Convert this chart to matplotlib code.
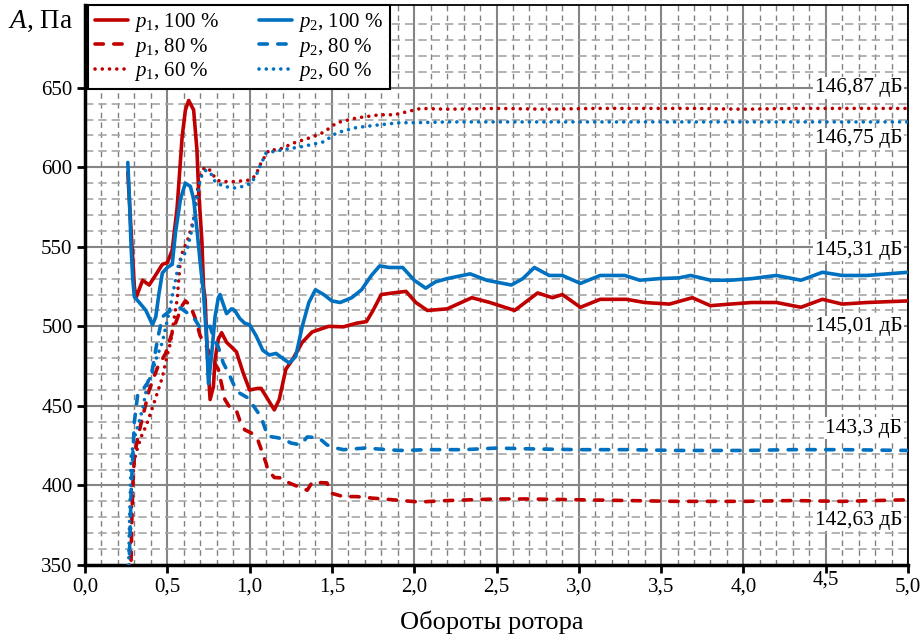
import numpy as np
import matplotlib
matplotlib.use('Agg')
import matplotlib.pyplot as plt
from matplotlib.ticker import FixedLocator

plt.rcParams['font.family'] = ['Liberation Serif', 'DejaVu Serif']
plt.rcParams['mathtext.fontset'] = 'custom'
plt.rcParams['mathtext.rm'] = 'Liberation Serif'
plt.rcParams['mathtext.it'] = 'Liberation Serif:italic'
plt.rcParams['mathtext.bf'] = 'Liberation Serif:bold'

# ---------------- data ----------------
x_p1_100 = [0.26, 0.28, 0.30, 0.31, 0.35, 0.39, 0.44, 0.47, 0.50, 0.53, 0.56, 0.59, 0.61, 0.63,
            0.66, 0.68, 0.69, 0.71, 0.72, 0.73, 0.74, 0.75, 0.76, 0.78, 0.79, 0.81, 0.83, 0.86,
            0.89, 0.92, 0.96, 1.00, 1.05, 1.07, 1.10, 1.15, 1.18, 1.22, 1.26, 1.32, 1.38, 1.48,
            1.57, 1.65, 1.71, 1.75, 1.80, 1.87, 1.95, 2.01, 2.08, 2.20, 2.35, 2.46, 2.61, 2.75,
            2.84, 2.90, 3.01, 3.13, 3.29, 3.40, 3.55, 3.69, 3.80, 3.92, 4.05, 4.20, 4.35, 4.48,
            4.60, 4.75, 5.00]
y_p1_100 = [597, 560, 525, 518, 529, 526, 534, 539, 540, 548, 575, 619, 636, 642,
            636, 611, 586, 554, 525, 517, 490, 471, 454, 462, 479, 492, 496, 490,
            487, 484, 471, 460, 461, 461, 456, 447.5, 454, 473, 479, 490, 496.5, 500,
            499.7, 502, 503, 510, 520, 521, 522, 515, 510, 511, 518, 515, 510, 521,
            518, 520, 512, 517, 517, 515, 514, 518, 513, 514, 515, 515, 512, 517,
            514, 515, 516]

x_p2_100 = [0.26, 0.27, 0.28, 0.29, 0.30, 0.33, 0.37, 0.41, 0.43, 0.45, 0.47, 0.50, 0.53, 0.55,
            0.58, 0.61, 0.64, 0.66, 0.68, 0.70, 0.72, 0.74, 0.75, 0.77, 0.79, 0.81, 0.82, 0.84,
            0.86, 0.89, 0.91, 0.94, 0.97, 1.00, 1.04, 1.08, 1.12, 1.16, 1.20, 1.24, 1.28, 1.32,
            1.36, 1.40, 1.45, 1.50, 1.55, 1.62, 1.68, 1.74, 1.79, 1.85, 1.93, 2.00, 2.07, 2.13,
            2.20, 2.34, 2.44, 2.59, 2.66, 2.73, 2.82, 2.90, 3.01, 3.13, 3.28, 3.37, 3.49, 3.61,
            3.68, 3.80, 3.92, 4.05, 4.20, 4.35, 4.48, 4.60, 4.75, 5.00]
y_p2_100 = [603, 580, 550, 530, 518.5, 515, 510, 501, 506, 521, 533.6, 537, 539, 559,
            580, 590, 588, 580, 561, 540, 521, 490, 464, 483, 506, 518, 520, 514,
            508, 511, 510, 505, 502, 501, 494, 485, 482, 483, 480, 477, 481, 500,
            515, 523, 520, 516, 515, 518, 523, 532, 538, 537, 537, 529, 524, 528,
            530, 533, 529, 526, 530, 537, 532, 532, 527, 532, 532, 529, 530, 530.5,
            532, 529, 529, 530, 532, 529, 534, 532, 532, 534]

x_p1_80 = [0.28, 0.285, 0.29, 0.30, 0.32, 0.35, 0.39, 0.44, 0.49, 0.52, 0.55, 0.59, 0.61, 0.64,
           0.67, 0.70, 0.74, 0.77, 0.81, 0.85, 0.88, 0.92, 0.94, 0.97, 1.01, 1.05, 1.08, 1.10,
           1.11, 1.15, 1.20, 1.24, 1.30, 1.35, 1.38, 1.47, 1.50, 1.57, 1.65, 1.75, 1.87, 2.03,
           2.20, 2.50, 2.70, 3.00, 3.30, 3.60, 4.00, 4.30, 4.60, 5.00]
y_p1_80 = [353, 380, 399, 418, 430, 443, 460, 474, 483, 493, 502, 513, 516, 513,
           505, 494, 487, 480, 473, 454, 449, 447, 441, 435, 433, 428.6, 420, 414,
           410, 405, 404.7, 401.6, 399, 397, 402, 401.6, 395, 393, 393, 392, 391, 389.6,
           390.5, 391.5, 391.5, 391, 390.5, 390, 390, 390.5, 390, 391]

x_p2_80 = [0.27, 0.275, 0.28, 0.29, 0.30, 0.32, 0.35, 0.38, 0.41, 0.44, 0.47, 0.52, 0.58, 0.64,
           0.67, 0.70, 0.76, 0.78, 0.81, 0.84, 0.87, 0.91, 0.94, 0.99, 1.03, 1.07, 1.09, 1.11,
           1.17, 1.21, 1.25, 1.31, 1.35, 1.42, 1.47, 1.52, 1.57, 1.70, 1.91, 2.10, 2.30, 2.50,
           2.70, 3.00, 3.30, 3.60, 4.00, 4.30, 4.60, 5.00]
y_p2_80 = [357, 375, 395, 418, 440, 457, 460, 464.5, 473, 491.5, 506, 510, 511.6, 507,
           504, 499, 500, 493, 487, 477, 471, 462, 458, 455, 449, 443, 437, 431,
           430, 429, 426.7, 425.5, 430.5, 430, 425.5, 423.6, 422.5, 423.5, 422, 422.5, 422.5, 423.5,
           423, 422.5, 422.5, 422, 422, 422.5, 422.5, 422]

x_p1_60 = [0.27, 0.28, 0.29, 0.30, 0.32, 0.35, 0.37, 0.42, 0.47, 0.50, 0.52, 0.54, 0.56, 0.58,
           0.60, 0.62, 0.64, 0.66, 0.68, 0.70, 0.72, 0.74, 0.76, 0.78, 0.80, 0.83, 0.90, 0.96,
           1.00, 1.02, 1.05, 1.07, 1.10, 1.12, 1.17, 1.20, 1.26, 1.32, 1.38, 1.45, 1.53, 1.65,
           1.79, 1.88, 1.96, 2.04, 2.20, 2.50, 2.80, 3.10, 3.40, 3.70, 4.00, 4.30, 4.60, 5.00]
y_p1_60 = [350, 380, 405, 416, 424, 433, 437, 452, 468, 482, 490, 504, 517, 543,
           549, 553, 560, 567, 584, 594, 599, 600, 598, 595, 592, 591, 591, 591.5,
           592, 593, 598, 603, 608, 611, 611, 612, 615, 617, 619, 622, 628, 631,
           633, 633, 635, 637, 636.5, 637, 636.5, 637, 637, 637, 636.5, 637, 637, 637]

x_p2_60 = [0.265, 0.27, 0.275, 0.28, 0.30, 0.32, 0.35, 0.38, 0.41, 0.43, 0.47, 0.51, 0.55, 0.57,
           0.62, 0.65, 0.68, 0.70, 0.73, 0.76, 0.79, 0.84, 0.91, 0.96, 1.01, 1.04, 1.06, 1.10,
           1.15, 1.20, 1.32, 1.45, 1.53, 1.65, 1.79, 1.91, 2.00, 2.20, 2.50, 2.80, 3.10, 3.40,
           3.70, 4.00, 4.30, 4.60, 5.00]
y_p2_60 = [350, 375, 395, 418, 430, 437, 448, 464, 471, 479, 490, 508.5, 529, 540,
           548, 561, 580, 593, 598, 597, 591, 588, 587, 588, 590, 595, 600, 609,
           610, 611, 613, 616, 621.7, 625, 626.7, 628, 628, 628.5, 628.5, 628.5, 628.5, 628.5,
           628.5, 628.5, 628.5, 628.5, 628.5]

x_ticks = [0.0, 0.5, 1.0, 1.5, 2.0, 2.5, 3.0, 3.5, 4.0, 4.5, 5.0]
x_tick_labels = ['0,0', '0,5', '1,0', '1,5', '2,0', '2,5', '3,0', '3,5', '4,0', '4,5', '5,0']
y_ticks = [350, 400, 450, 500, 550, 600, 650]

labels = [r'$p_1$, 100 %', r'$p_1$, 80 %', r'$p_1$, 60 %',
          r'$p_2$, 100 %', r'$p_2$, 80 %', r'$p_2$, 60 %']

annot_text = ['146,87 дБ', '146,75 дБ', '145,31 дБ', '145,01 дБ', '143,3 дБ', '142,63 дБ']
annot_y = [650, 618, 548, 500, 436, 378]

# ---------------- plot ----------------
RED = '#C00000'
BLUE = '#0070C0'

fig = plt.figure(figsize=(9.24, 6.41), dpi=100)
ax = fig.add_axes([85 / 924, 1 - 565 / 641, (908 - 85) / 924, (565 - 5) / 641])
ax.set_xlim(0, 5)
ax.set_ylim(350, 702)

lw = 2.6
dash = (2.3, 2.9)
dot = (0.01, 2.0)

l1, = ax.plot(x_p1_100, y_p1_100, color=RED, lw=lw, solid_capstyle='round', zorder=5)
l2, = ax.plot(x_p1_80, y_p1_80, color=RED, lw=lw, dashes=dash, dash_capstyle='round', zorder=5)
l3, = ax.plot(x_p1_60, y_p1_60, color=RED, lw=lw, dashes=dot, dash_capstyle='round', zorder=5)
l4, = ax.plot(x_p2_100, y_p2_100, color=BLUE, lw=lw, solid_capstyle='round', zorder=5)
l5, = ax.plot(x_p2_80, y_p2_80, color=BLUE, lw=lw, dashes=dash, dash_capstyle='round', zorder=5)
l6, = ax.plot(x_p2_60, y_p2_60, color=BLUE, lw=lw, dashes=dot, dash_capstyle='round', zorder=5)

# ticks
ax.set_xticks(x_ticks)
ax.set_xticklabels(x_tick_labels)
ax.set_yticks(y_ticks)
ax.xaxis.set_minor_locator(FixedLocator([v / 10 for v in range(1, 50) if v % 5 != 0]))
ax.yaxis.set_minor_locator(FixedLocator([v for v in range(360, 700, 10) if v % 50 != 0]))
ax.tick_params(axis='both', which='major', direction='out', length=6, width=2,
               labelsize=15, color='black', pad=3)
ax.tick_params(axis='both', which='minor', length=0)

# grid
ax.set_axisbelow(True)
ax.grid(which='major', color='#858585', lw=1.5, ls='-')
ax.xaxis.grid(which='minor', color='#808080', lw=1.0, ls=(0, (4, 3)))
ax.yaxis.grid(which='minor', color='#a6a6a6', lw=1.2, ls=(0, (5, 3)))

for s in ['left', 'bottom']:
    ax.spines[s].set_linewidth(2.5)
for s in ['top', 'right']:
    ax.spines[s].set_linewidth(1.3)
for s in ax.spines.values():
    s.set_color('black')

# the slightly raised "4,5" label
ax.xaxis.get_major_ticks()[9].set_pad(-2)

ax.set_xlabel('Обороты ротора', fontsize=19, labelpad=10)
ax.xaxis.label.set_x(0.494)
fig.text(8 / 924, 1 - 21 / 641, r'$A$, Па', fontsize=19.5, ha='left', va='center')

for t, yv in zip(annot_text, annot_y):
    ax.text(4.965, yv, t, ha='right', va='center', fontsize=15.5, zorder=6,
            bbox=dict(facecolor='white', edgecolor='none', pad=1.0))

leg = ax.legend([l1, l2, l3, l4, l5, l6], labels, ncol=2, loc='upper left',
                bbox_to_anchor=(0.004, 1.0), borderaxespad=0, fontsize=15,
                handlelength=1.6, handletextpad=0.3, columnspacing=1.9,
                labelspacing=0.07, borderpad=0.3, fancybox=False, framealpha=1,
                edgecolor='black')
leg.get_frame().set_linewidth(1.5)
leg.set_zorder(10)

fig.savefig('out.png', dpi=100)
